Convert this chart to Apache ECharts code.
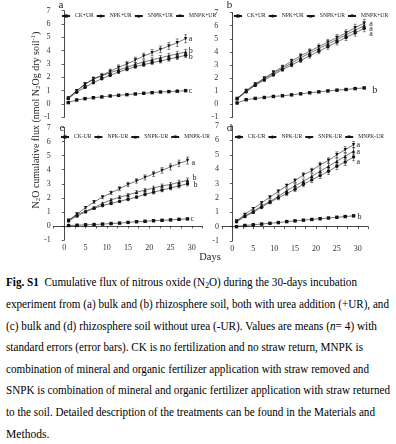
<!DOCTYPE html>
<html>
<head>
<meta charset="utf-8">
<script src="https://cdn.jsdelivr.net/npm/echarts@6/dist/echarts.min.js"></script>
<style>
  html, body { margin: 0; padding: 0; background: #fff; }
  #wrap { position: relative; width: 396px; height: 444px; overflow: hidden; }
  #chart { position: absolute; left: 0; top: 0; width: 396px; height: 270px; }
  #caption {
    position: absolute; left: 6px; top: 272.2px;
    font-family: 'Liberation Serif', 'Times New Roman', serif;
    font-size: 11.6px; color: #000;
  }
  #caption .ln {
    width: max-content; height: 21.67px; line-height: 21.67px;
    white-space: nowrap; transform-origin: 0 50%;
  }
  #caption .sub { font-size: 8px; position: relative; top: 2px; }
</style>
</head>
<body>
<div id="wrap">
  <div id="chart"></div>
  <div id="caption">
    <div class="ln" data-r="357"><b>Fig. S1</b>&nbsp; Cumulative flux of nitrous oxide (N<span class="sub">2</span>O) during the 30-days incubation</div>
    <div class="ln" data-r="389">experiment from (a) bulk and (b) rhizosphere soil, both with urea addition (+UR), and</div>
    <div class="ln" data-r="377">(c) bulk and (d) rhizosphere soil without urea (-UR). Values are means (<i>n</i>= 4) with</div>
    <div class="ln" data-r="363">standard errors (error bars). CK is no fertilization and no straw return, MNPK is</div>
    <div class="ln" data-r="369">combination of mineral and organic fertilizer application with straw removed and</div>
    <div class="ln" data-r="390">SNPK is combination of mineral and organic fertilizer application with straw returned</div>
    <div class="ln" data-r="375">to the soil. Detailed description of the treatments can be found in the Materials and</div>
    <div class="ln">Methods.</div>
  </div>
</div>
<script>
// sampling days
const days = [1, 3, 5, 7, 9, 11, 13, 15, 17, 19, 21, 23, 25, 27, 29]

const namesUR = ['CK+UR', 'NPK+UR', 'SNPK+UR', 'MNPK+UR']
const namesNoUR = ['CK-UR', 'NPK-UR', 'SNPK-UR', 'MNPK-UR']

// (a) bulk soil +UR
const aCK = [0.1, 0.3, 0.4, 0.47, 0.53, 0.6, 0.65, 0.7, 0.75, 0.8, 0.85, 0.9, 0.93, 0.96, 1.0]
const aNPK = [0.4, 0.88, 1.25, 1.6, 1.9, 2.15, 2.4, 2.6, 2.8, 2.95, 3.1, 3.22, 3.37, 3.5, 3.65]
const aSNPK = [0.45, 0.95, 1.48, 1.85, 2.1, 2.35, 2.55, 2.75, 2.98, 3.15, 3.32, 3.47, 3.62, 3.76, 3.9]
const aMNPK = [0.45, 1.0, 1.5, 1.9, 2.15, 2.45, 2.75, 3.0, 3.3, 3.6, 3.85, 4.1, 4.35, 4.6, 4.9]
const aCKErr = [0.02, 0.02, 0.02, 0.02, 0.02, 0.02, 0.03, 0.03, 0.03, 0.03, 0.03, 0.03, 0.03, 0.04, 0.04]
const aNPKErr = [0.05, 0.06, 0.07, 0.08, 0.09, 0.1, 0.1, 0.11, 0.12, 0.13, 0.13, 0.14, 0.15, 0.16, 0.17]
const aSNPKErr = [0.05, 0.07, 0.08, 0.09, 0.1, 0.11, 0.12, 0.13, 0.14, 0.15, 0.16, 0.17, 0.18, 0.19, 0.2]
const aMNPKErr = [0.06, 0.09, 0.11, 0.13, 0.15, 0.16, 0.18, 0.19, 0.21, 0.22, 0.23, 0.25, 0.26, 0.28, 0.3]

// (b) rhizosphere soil +UR
const bCK = [0.1, 0.35, 0.45, 0.52, 0.6, 0.65, 0.72, 0.8, 0.88, 0.95, 1.02, 1.08, 1.13, 1.2, 1.25]
const bNPK = [0.4, 0.95, 1.45, 1.85, 2.25, 2.65, 3.0, 3.35, 3.7, 4.05, 4.4, 4.75, 5.1, 5.45, 5.8]
const bSNPK = [0.45, 1.0, 1.5, 1.95, 2.35, 2.75, 3.15, 3.55, 3.9, 4.25, 4.6, 4.95, 5.3, 5.65, 6.0]
const bMNPK = [0.45, 1.05, 1.55, 2.0, 2.45, 2.85, 3.3, 3.7, 4.05, 4.4, 4.75, 5.1, 5.45, 5.85, 6.2]
const bCKErr = [0.02, 0.02, 0.02, 0.03, 0.03, 0.03, 0.03, 0.03, 0.04, 0.04, 0.04, 0.04, 0.05, 0.05, 0.05]
const bNPKErr = [0.05, 0.07, 0.08, 0.1, 0.11, 0.13, 0.14, 0.16, 0.17, 0.19, 0.2, 0.22, 0.23, 0.25, 0.26]
const bSNPKErr = [0.05, 0.07, 0.09, 0.1, 0.12, 0.13, 0.15, 0.16, 0.18, 0.19, 0.21, 0.22, 0.24, 0.25, 0.27]
const bMNPKErr = [0.06, 0.08, 0.09, 0.11, 0.12, 0.14, 0.15, 0.17, 0.18, 0.2, 0.21, 0.23, 0.24, 0.26, 0.28]

// (c) bulk soil -UR
const cCK = [0.03, 0.05, 0.08, 0.1, 0.13, 0.17, 0.2, 0.25, 0.3, 0.33, 0.37, 0.4, 0.43, 0.47, 0.5]
const cNPK = [0.35, 0.7, 1.0, 1.25, 1.45, 1.6, 1.75, 1.9, 2.05, 2.25, 2.4, 2.55, 2.7, 2.85, 3.0]
const cSNPK = [0.4, 0.8, 1.05, 1.3, 1.6, 1.85, 2.05, 2.2, 2.4, 2.55, 2.7, 2.85, 2.95, 3.1, 3.25]
const cMNPK = [0.4, 0.85, 1.3, 1.7, 2.05, 2.35, 2.65, 2.95, 3.2, 3.45, 3.7, 3.95, 4.2, 4.45, 4.65]
const cCKErr = [0.01, 0.01, 0.01, 0.01, 0.02, 0.02, 0.02, 0.02, 0.02, 0.02, 0.03, 0.03, 0.03, 0.03, 0.03]
const cNPKErr = [0.04, 0.05, 0.06, 0.07, 0.08, 0.08, 0.09, 0.1, 0.1, 0.11, 0.12, 0.12, 0.13, 0.14, 0.15]
const cSNPKErr = [0.04, 0.05, 0.06, 0.07, 0.08, 0.09, 0.1, 0.1, 0.11, 0.12, 0.13, 0.13, 0.14, 0.15, 0.16]
const cMNPKErr = [0.05, 0.07, 0.08, 0.1, 0.11, 0.12, 0.14, 0.15, 0.16, 0.18, 0.19, 0.2, 0.22, 0.23, 0.25]

// (d) rhizosphere soil -UR
const dCK = [0.0, 0.08, 0.13, 0.18, 0.23, 0.28, 0.35, 0.4, 0.45, 0.5, 0.55, 0.6, 0.65, 0.7, 0.75]
const dNPK = [0.35, 0.7, 1.0, 1.35, 1.7, 2.0, 2.3, 2.6, 2.95, 3.25, 3.55, 3.85, 4.2, 4.5, 4.85]
const dSNPK = [0.35, 0.75, 1.05, 1.45, 1.75, 2.1, 2.5, 2.85, 3.15, 3.5, 3.85, 4.2, 4.55, 4.9, 5.25]
const dMNPK = [0.4, 0.85, 1.25, 1.65, 2.05, 2.45, 2.85, 3.2, 3.6, 3.9, 4.3, 4.6, 5.0, 5.35, 5.7]
const dCKErr = [0.01, 0.01, 0.02, 0.02, 0.02, 0.02, 0.02, 0.03, 0.03, 0.03, 0.03, 0.03, 0.04, 0.04, 0.04]
const dNPKErr = [0.05, 0.07, 0.08, 0.1, 0.11, 0.13, 0.14, 0.16, 0.17, 0.19, 0.2, 0.22, 0.23, 0.25, 0.27]
const dSNPKErr = [0.05, 0.06, 0.08, 0.09, 0.11, 0.12, 0.13, 0.15, 0.16, 0.18, 0.19, 0.2, 0.22, 0.23, 0.25]
const dMNPKErr = [0.04, 0.06, 0.07, 0.08, 0.1, 0.11, 0.12, 0.13, 0.15, 0.16, 0.17, 0.18, 0.2, 0.21, 0.22]

// significance letters (CK, NPK, SNPK, MNPK)
const aLetters = ['c', 'b', 'b', 'a']
const bLetters = ['b', 'a', 'a', 'a']
const cLetters = ['c', 'b', 'b', 'a']
const dLetters = ['b', 'a', 'a', 'a']

const FONT = "'Liberation Serif', 'Times New Roman', serif"
const INK = '#1a1a1a'
const symbols = ['rect', 'circle', 'triangle', 'triangle']
const rotates = [0, 0, 0, 180]

const panels = [
  { names: namesUR, vals: [aCK, aNPK, aSNPK, aMNPK], errs: [aCKErr, aNPKErr, aSNPKErr, aMNPKErr], letters: aLetters,
    grid: { left: 53.6, top: 10.7, width: 146.7, height: 106.6 }, xShow: false,
    lab: [[3, 0, 8], [3, 1.5, 8], [3, -1, 8], [3, 0, 8]] },
  { names: namesUR, vals: [bCK, bNPK, bSNPK, bMNPK], errs: [bCKErr, bNPKErr, bSNPKErr, bMNPKErr], letters: bLetters,
    grid: { left: 221.2, top: 12.6, width: 158.9, height: 104.8 }, xShow: false,
    lab: [[8, 2.5, 10], [5, 6, 8], [5, 3, 8], [5, 0.5, 8]] },
  { names: namesNoUR, vals: [cCK, cNPK, cSNPK, cMNPK], errs: [cCKErr, cNPKErr, cSNPKErr, cMNPKErr], letters: cLetters,
    grid: { left: 53.7, top: 127.5, width: 148.7, height: 112.5 }, xShow: true,
    lab: [[3, 0, 8], [6, 1, 8], [5, -2, 8], [4, 2, 8]] },
  { names: namesNoUR, vals: [dCK, dNPK, dSNPK, dMNPK], errs: [dCKErr, dNPKErr, dSNPKErr, dMNPKErr], letters: dLetters,
    grid: { left: 221.9, top: 126, width: 146.3, height: 115 }, xShow: true,
    lab: [[4, 1.5, 8], [3, 4.5, 8], [3, 1, 8], [3, 0, 8]] }
]

const legendPos = [[61, 13], [233, 13], [60, 134], [234, 134]]
const letterPos = [['a', 61, 5], ['b', 229.5, 5], ['c', 62, 128], ['d', 229.5, 128]]

function renderErr(params, api) {
  const x = api.value(0)
  const y = api.value(1)
  const e = api.value(2)
  const hi = api.coord([x, y + e])
  const lo = api.coord([x, y - e])
  const w = 1.5
  const st = { stroke: INK, lineWidth: 0.5 }
  return {
    type: 'group',
    children: [
      { type: 'line', shape: { x1: hi[0], y1: hi[1], x2: lo[0], y2: lo[1] }, style: st },
      { type: 'line', shape: { x1: hi[0] - w, y1: hi[1], x2: hi[0] + w, y2: hi[1] }, style: st },
      { type: 'line', shape: { x1: lo[0] - w, y1: lo[1], x2: lo[0] + w, y2: lo[1] }, style: st }
    ]
  }
}

const grids = []
const xAxes = []
const yAxes = []
const series = []
const legends = []

panels.forEach((p, k) => {
  grids.push(Object.assign({ outerBoundsMode: 'none', containLabel: false }, p.grid))
  xAxes.push({
    type: 'value', gridIndex: k, min: -2.5, max: 32.5, interval: 2.5, show: p.xShow,
    axisLine: { lineStyle: { color: INK, width: 0.8 } },
    axisTick: { length: 2.5, lineStyle: { color: INK, width: 0.7 } },
    axisLabel: { fontFamily: FONT, fontSize: 8, color: '#333', margin: 4,
      formatter: v => (v % 5 === 0 && v >= 0 && v <= 30) ? String(v) : '' },
    splitLine: { show: false }
  })
  yAxes.push({
    type: 'value', gridIndex: k, min: -1, max: 7, interval: 1,
    axisLine: { show: true, lineStyle: { color: INK, width: 0.8 } },
    axisTick: { show: true, length: 2.5, lineStyle: { color: INK, width: 0.7 } },
    axisLabel: { fontFamily: FONT, fontSize: 8, color: '#333', margin: 3 },
    splitLine: { show: false }
  })
  legends.push({
    data: p.names, left: legendPos[k][0], top: legendPos[k][1], width: 240,
    orient: 'horizontal', itemWidth: 8, itemHeight: 4, itemGap: 2, padding: 0,
    textStyle: { fontFamily: FONT, fontSize: 5.6, color: '#222' },
    selectedMode: false
  })
  p.vals.forEach((vals, i) => {
    series.push({
      name: p.names[i], type: 'line', xAxisIndex: k, yAxisIndex: k,
      data: days.map((d, j) => [d, vals[j]]),
      symbol: symbols[i], symbolRotate: rotates[i], symbolSize: 3.4,
      showAllSymbol: true,
      lineStyle: { color: INK, width: 0.6 },
      itemStyle: { color: '#111' },
      z: 3,
      endLabel: {
        show: true, formatter: p.letters[i], distance: p.lab[i][0], offset: [0, p.lab[i][1]],
        fontFamily: FONT, fontSize: p.lab[i][2], color: '#222'
      }
    })
    series.push({
      type: 'custom', xAxisIndex: k, yAxisIndex: k, renderItem: renderErr,
      data: days.map((d, j) => [d, vals[j], p.errs[i][j]]),
      z: 4, silent: true
    })
  })
})

const graphics = letterPos.map(([t, x, y]) => ({
  type: 'text', x: x, y: y,
  style: { text: t, fontFamily: FONT, fontSize: 11, fill: '#222', align: 'center', verticalAlign: 'middle' }
}))
graphics.push({
  type: 'text', x: 36, y: 120, rotation: Math.PI / 2,
  style: {
    text: '{r|N}{s|2}{r|O cumulative flux (nmol N}{s|2}{r|Og dry soil}{p|-1}{r|)}',
    align: 'center', verticalAlign: 'middle',
    rich: {
      r: { fontFamily: FONT, fontSize: 10, lineHeight: 12, fill: '#222' },
      s: { fontFamily: FONT, fontSize: 6.8, lineHeight: 7, verticalAlign: 'bottom', fill: '#222' },
      p: { fontFamily: FONT, fontSize: 6.8, lineHeight: 7, verticalAlign: 'top', fill: '#222' }
    }
  }
})
graphics.push({
  type: 'text', x: 210, y: 257,
  style: { text: 'Days', fontFamily: FONT, fontSize: 10.5, fill: '#222', align: 'center', verticalAlign: 'middle' }
})

const chart = echarts.init(document.getElementById('chart'), null, { renderer: 'canvas' })
chart.setOption({
  animation: false,
  backgroundColor: '#fff',
  grid: grids,
  xAxis: xAxes,
  yAxis: yAxes,
  legend: legends,
  series: series,
  graphic: graphics
})

// fit each caption line to the width it has in the original figure
document.querySelectorAll('#caption .ln').forEach(el => {
  const r = Number(el.dataset.r)
  if (!r) return
  const w = el.getBoundingClientRect().width
  el.style.transform = 'scaleX(' + ((r - 6) / w) + ')'
})
</script>
</body>
</html>
